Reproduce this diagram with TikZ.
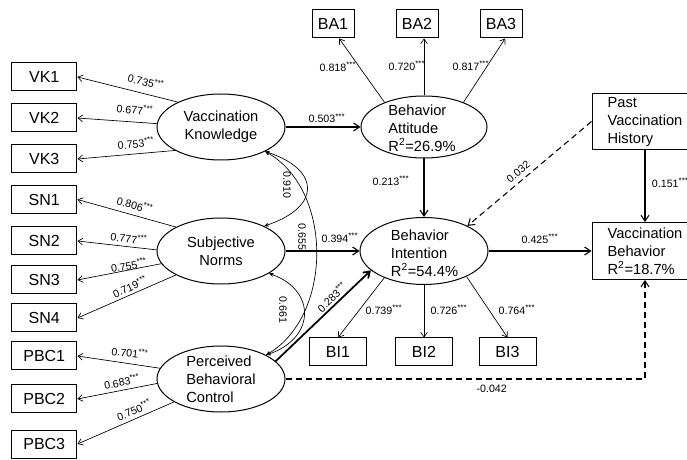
\documentclass[tikz,border=0pt]{standalone}
\usepackage{fontspec}
\setmainfont{Liberation Sans}
\usetikzlibrary{shapes.geometric,arrows.meta}
\begin{document}
\begin{tikzpicture}[x=0.75pt,y=-0.75pt,
  latent/.style={ellipse, draw, line width=0.75pt, inner sep=0pt},
  lattext/.style={inner sep=0pt, font=\fontsize{11}{13.5}\selectfont},
  obs/.style={rectangle, draw, line width=0.75pt, inner sep=0pt, font=\fontsize{12}{14}\selectfont},
  leftbox/.style={obs, minimum width=49.1pt, minimum height=21pt},
  babox/.style={obs, minimum width=31.5pt, minimum height=21pt},
  bibox/.style={obs, minimum width=42.75pt, minimum height=21pt},
  bigbox/.style={obs, minimum width=79.5pt, minimum height=42.6pt, align=left, font=\fontsize{11}{13.5}\selectfont},
  ind/.style={line width=0.5pt, -{Straight Barb[length=3.5pt,width=5pt]}},
  strarrow/.style={line width=0.8pt, -{Straight Barb[length=4.5pt,width=6pt]}},
  dsharrow/.style={strarrow, dash pattern=on 4.5pt off 3pt},
  cor/.style={line width=0.5pt, {Stealth[length=3.5pt,width=3pt]}-{Stealth[length=3.5pt,width=3pt]}},
  lbl/.style={font=\fontsize{8}{9.6}\selectfont, inner sep=0pt}]
\useasboundingbox (0,0) rectangle (687,460);
\clip (0,0) rectangle (687,460);

% latent ellipses
\node[latent, minimum width=96pt, minimum height=49.5pt] (vk) at (221,127) {};
\node[lattext, align=center] (vkt) at (vk) {Vaccination\\Knowledge};
\node[latent, minimum width=96pt, minimum height=49.5pt] (sn) at (221,251) {};
\node[lattext, align=center] (snt) at (sn) {Subjective\\Norms};
\node[latent, minimum width=96pt, minimum height=49.5pt] (pbc) at (221,379) {};
\node[lattext, align=left] (pbct) at (pbc) {Perceived\\Behavioral\\Control};
\node[latent, minimum width=94.5pt, minimum height=46.5pt] (ba) at (424,127) {};
\node[lattext, align=left] (bat) at (422,128) {Behavior\\Attitude\\R\textsuperscript{2}=26.9\%};
\node[latent, minimum width=96pt, minimum height=50.25pt] (bi) at (424,251) {};
\node[lattext, align=left] (bit) at (424.5,253) {Behavior\\Intention\\R\textsuperscript{2}=54.4\%};

% observed boxes
\node[leftbox] (vk1) at (44.25,77) {VK1};
\node[leftbox] (vk2) at (44.25,118) {VK2};
\node[leftbox] (vk3) at (44.25,159) {VK3};
\node[leftbox] (sn1) at (44.25,199.5) {SN1};
\node[leftbox] (sn2) at (44.25,241) {SN2};
\node[leftbox] (sn3) at (44.25,280) {SN3};
\node[leftbox] (sn4) at (44.25,318) {SN4};
\node[leftbox] (pbc1) at (44.25,356) {PBC1};
\node[leftbox] (pbc2) at (44.25,399) {PBC2};
\node[leftbox] (pbc3) at (44.25,444) {PBC3};
\node[babox] (ba1) at (333,24) {BA1};
\node[babox] (ba2) at (417,24) {BA2};
\node[babox] (ba3) at (501,24) {BA3};
\node[bibox] (bi1) at (338,352) {BI1};
\node[bibox] (bi2) at (424,352) {BI2};
\node[bibox] (bi3) at (507.5,352) {BI3};
\node[bigbox] (pvh) at (645,121.5) {Past\\Vaccination\\History};
\node[bigbox] (vb) at (645,251) {Vaccination\\Behavior\\R\textsuperscript{2}=18.7\%};

% indicator arrows
\draw[ind] (vk.150) -- (vk1.east);
\draw[ind] (vk.177) -- (vk2.east);
\draw[ind] (vk.207) -- (vk3.east);
\draw[ind] (sn.152) -- (sn1.east);
\draw[ind] (sn.179) -- (sn2.east);
\draw[ind] (sn.192) -- (sn3.east);
\draw[ind] (sn.208) -- (sn4.east);
\draw[ind] (pbc.170) -- (pbc1.east);
\draw[ind] (pbc.184) -- (pbc2.east);
\draw[ind] (pbc.206) -- (pbc3.east);
\draw[ind] (ba.148) -- (ba1.-67);
\draw[ind] (ba.north) -- (ba2.south -| ba.north);
\draw[ind] (ba.32) -- (ba3.-74);
\draw[ind] (bi.214) -- (bi1.north);
\draw[ind] (bi.south) -- (bi2.north);
\draw[ind] (bi.329) -- (bi3.north);

% structural paths
\draw[strarrow] (vk.east) -- (ba.west);
\draw[strarrow] (sn.east) -- (bi.west);
\draw[strarrow] (ba.south) -- (bi.north);
\draw[strarrow, line width=1.3pt] (pbc.18) -- (bi.200);
\draw[strarrow] (bi.east) -- (vb.west);
\draw[strarrow] (pvh.south) -- (vb.north);
\draw[dsharrow] (pvh.west) -- (bi.30);
\draw[dsharrow] (pbc.east) -| (vb.south);

% correlations
\draw[cor] (vk.331) .. controls (321,170) and (321,207) .. (sn.30);
\draw[cor] (sn.335) .. controls (316,290) and (316,338) .. (pbc.28);
\draw[cor] (vk.331) .. controls (333,190) and (333,315) .. (pbc.28);

% labels
\node[lbl, rotate=-13.5] at (146,81.7) {0.735\textsuperscript{***}};
\node[lbl, rotate=-5] at (135,109.3) {0.677\textsuperscript{***}};
\node[lbl, rotate=6] at (136,143.3) {0.753\textsuperscript{***}};
\node[lbl, rotate=-15] at (135,205) {0.806\textsuperscript{***}};
\node[lbl, rotate=-6.6] at (129,238.3) {0.777\textsuperscript{***}};
\node[lbl, rotate=11] at (129,265) {0.755\textsuperscript{***}};
\node[lbl, rotate=24] at (130,286.7) {0.719\textsuperscript{***}};
\node[lbl, rotate=-7] at (130,352.7) {0.701\textsuperscript{***}};
\node[lbl, rotate=12] at (122,381.7) {0.683\textsuperscript{***}};
\node[lbl, rotate=23.6] at (134,410) {0.750\textsuperscript{***}};
\node[lbl] at (338,66.7) {0.818\textsuperscript{***}};
\node[lbl] at (407,66) {0.720\textsuperscript{***}};
\node[lbl] at (471,66) {0.817\textsuperscript{***}};
\node[lbl] at (384,310) {0.739\textsuperscript{***}};
\node[lbl] at (449,310) {0.726\textsuperscript{***}};
\node[lbl] at (517,310) {0.764\textsuperscript{***}};
\node[lbl] at (327,118.3) {0.503\textsuperscript{***}};
\node[lbl] at (340,238) {0.394\textsuperscript{***}};
\node[lbl] at (391,181) {0.213\textsuperscript{***}};
\node[lbl] at (540,239) {0.425\textsuperscript{***}};
\node[lbl, anchor=west] at (651.7,182.7) {0.151\textsuperscript{***}};
\node[lbl] at (491.7,389.3) {-0.042};
\node[lbl, rotate=40] at (518.3,171.7) {0.032};
\node[lbl, rotate=44.5] at (332,297) {0.283\textsuperscript{***}};
\node[lbl, rotate=-90] at (287,185) {0.910};
\node[lbl, rotate=-90] at (302,237) {0.655};
\node[lbl, rotate=-90] at (283,310) {0.661};
\end{tikzpicture}
\end{document}
